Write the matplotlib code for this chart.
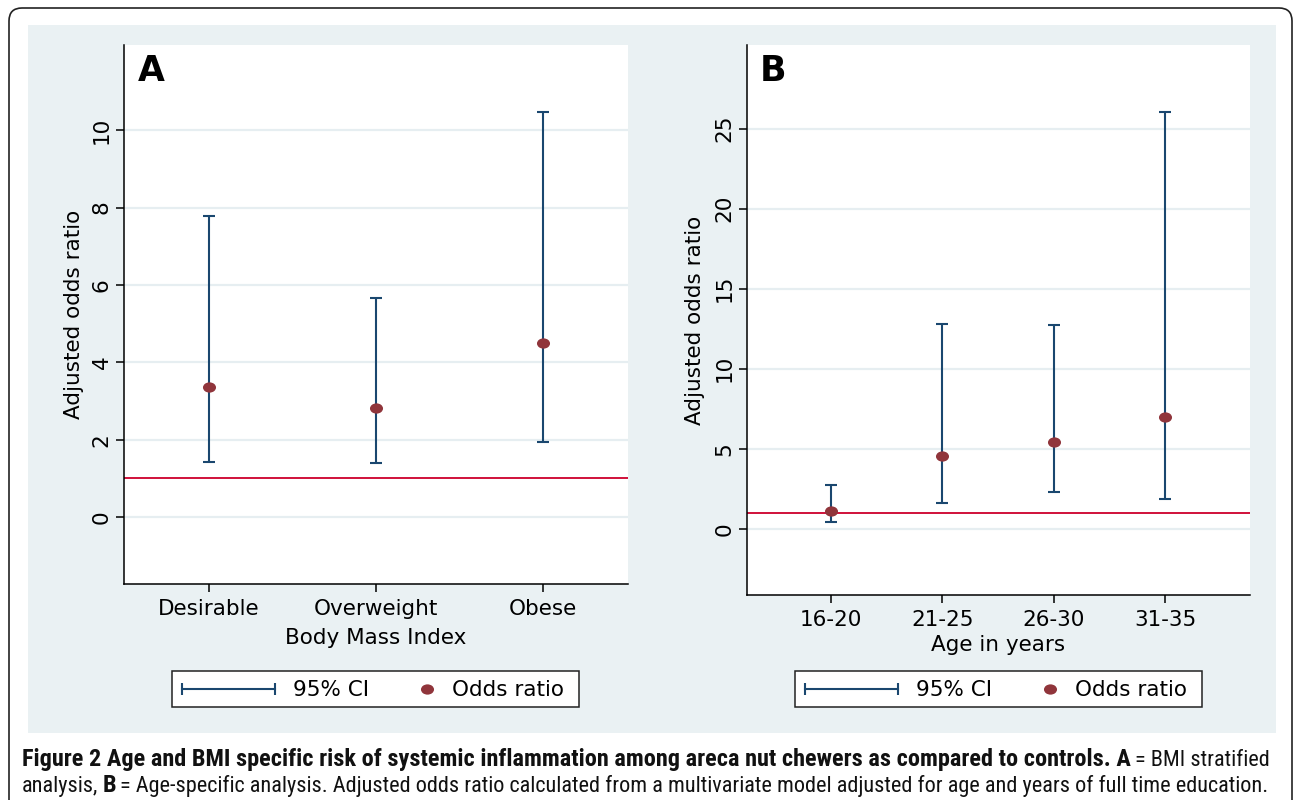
import matplotlib
matplotlib.use('Agg')
import matplotlib.pyplot as plt
import numpy as np
from matplotlib.lines import Line2D
from matplotlib.patches import Rectangle, FancyBboxPatch
from matplotlib.path import Path
from matplotlib.transforms import Affine2D

# datos: odds ratio ajustado e IC 95%
bmi_groups = ['Desirable', 'Overweight', 'Obese']
bmi_or = [3.35, 2.82, 4.50]
bmi_lo = [1.43, 1.40, 1.95]
bmi_hi = [7.78, 5.66, 10.47]

age_groups = ['16-20', '21-25', '26-30', '31-35']
age_or = [1.13, 4.52, 5.42, 6.96]
age_lo = [0.44, 1.59, 2.29, 1.88]
age_hi = [2.73, 12.80, 12.71, 26.04]

W, H = 1293, 800
navy = '#1a476f'
maroon = '#90353b'
red = '#d0103a'
bluegray = '#eaf1f3'
gridc = '#e6eef1'

plt.rcParams['font.family'] = 'DejaVu Sans'
fs = 15.5

fig = plt.figure(figsize=(W / 100, H / 100), dpi=100)

# marco redondeado y fondo azul claro
borde = FancyBboxPatch((0.09, -0.5), 12.83, 8.42,
                       boxstyle='round,pad=0,rounding_size=0.13',
                       transform=fig.dpi_scale_trans, fill=False,
                       ec='#222222', lw=1.2, zorder=-2)
fig.add_artist(borde)
fondo = Rectangle((28 / W, 1 - 733 / H), (1276 - 28) / W, (733 - 25) / H,
                  transform=fig.transFigure, fc=bluegray, ec='none', zorder=-1)
fig.add_artist(fondo)

# marcador eliptico (los puntos son mas anchos que altos)
elipse = Affine2D().scale(1.27, 1).transform_path(Path.unit_circle())


def panel(ax, labels, orv, lo, hi, xlim, ylim, yticks, letra, letra_xy,
          xlabel, xlab_y, ylab_x):
    x = np.arange(1, len(labels) + 1)
    orv = np.asarray(orv)
    lo = np.asarray(lo)
    hi = np.asarray(hi)
    ax.errorbar(x, orv, yerr=[orv - lo, hi - orv], fmt='none', ecolor=navy,
                elinewidth=1.5, capsize=4.3, capthick=1.5, zorder=3)
    ax.plot(x, orv, ls='none', marker=elipse, ms=9.4, mfc=maroon,
            mec='none', zorder=4)
    ax.axhline(1, color=red, lw=1.4, zorder=2)

    ax.set_xlim(*xlim)
    ax.set_ylim(*ylim)
    ax.set_xticks(x, labels)
    ax.set_yticks(yticks)
    ax.yaxis.grid(True, color=gridc, lw=1.6)
    ax.set_axisbelow(True)

    for s in ['top', 'right']:
        ax.spines[s].set_visible(False)
    for s in ['left', 'bottom']:
        ax.spines[s].set_linewidth(1.1)
    ax.tick_params(axis='both', direction='out', length=6, width=1.1,
                   labelsize=fs)
    ax.tick_params(axis='x', pad=5)
    ax.tick_params(axis='y', labelrotation=90, pad=3)
    for t in ax.get_yticklabels():
        t.set_va('center')

    ax.set_xlabel(xlabel, fontsize=fs)
    ax.xaxis.set_label_coords(0.5, xlab_y)
    ax.set_ylabel('Adjusted odds ratio', fontsize=fs)
    ax.yaxis.set_label_coords(ylab_x, 0.5)

    ax.text(letra_xy[0], letra_xy[1], letra, transform=ax.transAxes,
            fontsize=25, fontweight='bold', ha='left', va='top')


axA = fig.add_axes([124 / W, 1 - 584 / H, (628 - 124) / W, (584 - 45) / H])
axB = fig.add_axes([747 / W, 1 - 595 / H, (1250 - 747) / W, (595 - 45) / H])

panel(axA, bmi_groups, bmi_or, bmi_lo, bmi_hi, (0.49, 3.51), (-1.73, 12.2),
      [0, 2, 4, 6, 8, 10], 'A', (0.028, 0.983), 'Body Mass Index',
      -0.082, -0.079)
panel(axB, age_groups, age_or, age_lo, age_hi, (0.246, 4.76), (-4.14, 30.23),
      [0, 5, 10, 15, 20, 25], 'B', (0.026, 0.983), 'Age in years',
      -0.0735, -0.0835)


def leyenda(x0):
    # caja de leyenda dibujada a mano, estilo Stata
    y0, y1 = 671, 707
    yc = 689
    caja = Rectangle((x0 / W, 1 - y1 / H), 407 / W, (y1 - y0) / H,
                     transform=fig.transFigure, fc='white', ec='#222222',
                     lw=1.1)
    fig.add_artist(caja)
    lx = [(x0 + 10) / W, (x0 + 103) / W]
    ly = [1 - yc / H, 1 - yc / H]
    fig.add_artist(Line2D(lx, ly, transform=fig.transFigure, color=navy,
                          lw=1.5))
    fig.add_artist(Line2D(lx, ly, transform=fig.transFigure, ls='none',
                          marker='|', ms=8.6, mew=1.5, color=navy))
    fig.text((x0 + 121) / W, 1 - 696.5 / H, '95% CI', fontsize=fs,
             va='baseline', ha='left')
    fig.add_artist(Line2D([(x0 + 255) / W], [1 - yc / H],
                          transform=fig.transFigure, ls='none', marker=elipse,
                          ms=9.4, mfc=maroon, mec='none'))
    fig.text((x0 + 280) / W, 1 - 696.5 / H, 'Odds ratio', fontsize=fs,
             va='baseline', ha='left')


leyenda(172)
leyenda(795)

# pie de figura, texto mezclado negrita / normal
cap_fam = ['Roboto Condensed', 'Liberation Sans Narrow', 'DejaVu Sans']
negrita1 = ("Figure 2 Age and BMI specific risk of systemic inflammation among "
            "areca nut chewers as compared to controls. A")
normal1 = "= BMI stratified"
normal2a = "analysis,"
negrita2 = "B"
normal2b = ("= Age-specific analysis. Adjusted odds ratio calculated from a "
            "multivariate model adjusted for age and years of full time "
            "education.")
hueco = 4

renderer = fig.canvas.get_renderer()


def ancho(s, w, size):
    t = fig.text(0, 0, s, fontsize=size, fontweight=w, family=cap_fam)
    a = t.get_window_extent(renderer).width
    t.remove()
    return a


def escribir(partes, x0, ybase):
    x = x0
    for s, w, size in partes:
        t = fig.text(x / W, 1 - ybase / H, s, fontsize=size, fontweight=w,
                     family=cap_fam, va='baseline', ha='left', color='#111111')
        x += t.get_window_extent(renderer).width + hueco


# tamanos ajustados para que las lineas ocupen el mismo ancho que el original
size_b = 10 * (1132 - 22) / ancho(negrita1, 'bold', 10)
resto = ancho(normal2a, 'normal', 10) + ancho(normal2b, 'normal', 10)
size_n = 10 * (1262 - 22 - 20) / resto

escribir([(negrita1, 'bold', size_b), (normal1, 'normal', size_n)], 22, 766)
escribir([(normal2a, 'normal', size_n), (negrita2, 'bold', size_b),
          (normal2b, 'normal', size_n)], 22, 792)

fig.savefig('out.png', dpi=100)
